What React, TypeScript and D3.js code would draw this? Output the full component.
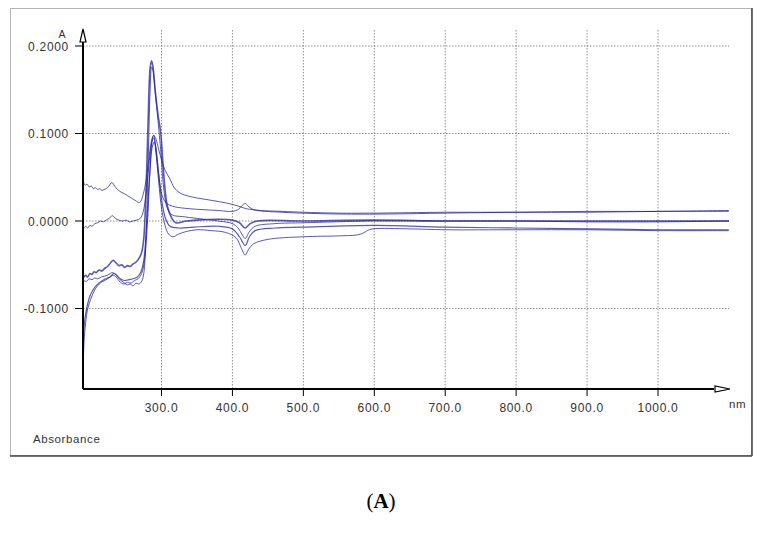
import React from "react";
import * as d3 from "d3";

const xTicks = [300, 400, 500, 600, 700, 800, 900, 1000];
const yTicks = [0.2, 0.1, 0.0, -0.1];
const yTickLabels = ["0.2000", "0.1000", "0.0000", "-0.1000"];

// spectra: [nm, absorbance]
const curve1: [number, number][] = [
  [190, 0.045], [192, 0.041], [195, 0.042], [198, 0.039], [201, 0.040], [204, 0.037], [207, 0.038], [210, 0.036],
  [213, 0.037], [216, 0.035], [219, 0.036], [222, 0.037], [226, 0.040], [230, 0.044], [234, 0.040], [238, 0.036],
  [243, 0.033], [248, 0.031], [252, 0.029], [256, 0.027], [260, 0.025], [264, 0.023], [268, 0.021], [271, 0.023],
  [274, 0.030], [278, 0.045], [282, 0.070], [286, 0.092], [289, 0.098], [292, 0.094], [296, 0.082], [300, 0.070],
  [305, 0.058], [312, 0.048], [318, 0.038], [326, 0.032], [340, 0.028], [360, 0.025], [382, 0.022], [400, 0.019],
  [412, 0.016], [420, 0.014], [440, 0.012], [470, 0.011], [500, 0.010], [550, 0.009], [600, 0.009], [700, 0.010],
  [800, 0.010], [900, 0.011], [1000, 0.011], [1100, 0.012]
];

const curve2: [number, number][] = [
  [190, -0.009], [193, -0.006], [196, -0.008], [199, -0.005], [202, -0.006], [206, -0.003], [210, -0.002], [214, 0.000],
  [218, -0.001], [222, 0.001], [226, 0.003], [231, 0.006], [235, 0.003], [240, 0.001], [245, 0.000], [250, 0.001],
  [255, -0.001], [260, 0.000], [265, 0.001], [270, 0.003], [274, 0.010], [278, 0.030], [282, 0.062], [286, 0.088],
  [289, 0.095], [292, 0.085], [296, 0.055], [300, 0.032], [305, 0.022], [312, 0.018], [320, 0.016], [340, 0.014],
  [380, 0.012], [400, 0.011], [408, 0.013], [414, 0.018], [418, 0.020], [422, 0.017], [430, 0.013], [470, 0.010],
  [550, 0.008], [620, 0.008], [700, 0.009], [800, 0.010], [900, 0.010], [1000, 0.011], [1100, 0.011]
];

const curve3: [number, number][] = [
  [190, -0.065], [193, -0.062], [196, -0.064], [199, -0.060], [202, -0.061], [205, -0.058], [208, -0.059], [212, -0.056],
  [216, -0.057], [220, -0.054], [224, -0.052], [228, -0.048], [232, -0.045], [236, -0.048], [240, -0.051], [244, -0.050],
  [248, -0.053], [252, -0.051], [256, -0.052], [260, -0.049], [264, -0.047], [268, -0.043], [272, -0.036], [275, -0.020],
  [278, 0.030], [281, 0.110], [284, 0.175], [286, 0.183], [288, 0.176], [291, 0.150], [295, 0.122], [299, 0.100],
  [303, 0.055], [308, 0.018], [314, 0.004], [320, -0.002], [335, 0.000], [350, 0.001], [380, 0.002], [400, 0.001],
  [410, -0.002], [418, -0.008], [425, -0.003], [435, 0.000], [500, 0.000], [600, 0.001], [700, 0.000], [800, 0.000],
  [900, 0.000], [1000, 0.000], [1100, 0.000]
];

const curve4: [number, number][] = [
  [190, -0.068], [194, -0.069], [198, -0.066], [202, -0.067], [206, -0.065], [210, -0.066], [215, -0.064], [220, -0.063],
  [226, -0.061], [230, -0.059], [234, -0.060], [238, -0.064], [243, -0.068], [248, -0.071], [252, -0.073], [256, -0.072],
  [260, -0.074], [264, -0.071], [268, -0.072], [272, -0.069], [275, -0.060], [278, -0.020], [281, 0.060], [284, 0.150],
  [286, 0.176], [288, 0.172], [291, 0.148], [295, 0.115], [299, 0.080], [303, 0.038], [308, 0.015], [315, 0.007],
  [330, 0.005], [350, 0.003], [380, 0.000], [400, -0.003], [408, -0.008], [414, -0.016], [418, -0.020], [424, -0.012],
  [432, -0.006], [460, -0.003], [500, -0.002], [600, 0.000], [700, 0.000], [800, 0.000], [900, -0.001], [1000, -0.001],
  [1100, 0.000]
];

const curve5: [number, number][] = [
  [190, -0.155], [191, -0.135], [193, -0.117], [196, -0.100], [200, -0.090], [205, -0.080], [210, -0.074], [215, -0.070],
  [220, -0.068], [226, -0.065], [232, -0.062], [237, -0.065], [242, -0.070], [247, -0.072], [252, -0.070], [257, -0.071],
  [262, -0.068], [267, -0.066], [272, -0.060], [276, -0.045], [280, -0.005], [284, 0.060], [287, 0.094], [289, 0.098],
  [292, 0.080], [296, 0.045], [300, 0.015], [305, -0.005], [310, -0.015], [316, -0.018], [324, -0.015], [335, -0.012],
  [350, -0.010], [370, -0.011], [390, -0.013], [405, -0.019], [412, -0.030], [418, -0.039], [423, -0.032], [430, -0.026],
  [450, -0.021], [500, -0.018], [550, -0.017], [575, -0.016], [584, -0.014], [590, -0.011], [598, -0.009], [650, -0.009],
  [700, -0.010], [800, -0.010], [900, -0.010], [1000, -0.011], [1100, -0.011]
];

const curve6: [number, number][] = [
  [190, -0.130], [192, -0.112], [195, -0.098], [199, -0.086], [204, -0.078], [209, -0.073], [215, -0.069], [221, -0.066],
  [227, -0.064], [233, -0.060], [237, -0.062], [242, -0.066], [248, -0.068], [254, -0.067], [260, -0.066], [266, -0.064],
  [271, -0.058], [275, -0.045], [279, -0.005], [283, 0.050], [287, 0.085], [290, 0.090], [293, 0.075], [297, 0.045],
  [301, 0.020], [306, 0.002], [312, -0.006], [325, -0.008], [345, -0.007], [380, -0.006], [400, -0.009], [410, -0.018],
  [418, -0.028], [424, -0.018], [432, -0.011], [460, -0.008], [500, -0.007], [600, -0.005], [700, -0.007], [800, -0.008],
  [900, -0.009], [1000, -0.010], [1100, -0.010]
];

const seriesList = [
  { data: curve1, w: 1 },
  { data: curve2, w: 1 },
  { data: curve3, w: 1.6 },
  { data: curve4, w: 1 },
  { data: curve5, w: 1 },
  { data: curve6, w: 1.2 },
];

export default function App() {
  const x = d3.scaleLinear().domain([300, 1000]).range([161.5, 658]);
  const y = d3.scaleLinear().domain([0.2, -0.1]).range([46, 308.5]);
  const axisX = 83;
  const axisY = 389;
  const plotTop = 30;
  const plotRight = 729;
  const line = d3
    .line<[number, number]>()
    .x((d) => x(d[0]))
    .y((d) => y(d[1]))
    .curve(d3.curveCatmullRom.alpha(0.5));
  const font = "'Liberation Sans', Arial, sans-serif";

  return (
    <svg
      width={763}
      height={533}
      style={{ position: "absolute", left: 0, top: 0, background: "#fff" }}
    >
      <rect x={0} y={0} width={763} height={533} fill="#fff" />
      {/* frame */}
      <rect x={10.5} y={8.5} width={741} height={447} fill="none" stroke="#b5b5b5" strokeWidth={1} />
      <line x1={752} y1={8} x2={752} y2={456} stroke="#444" strokeWidth={1.5} />
      <line x1={10} y1={456} x2={752} y2={456} stroke="#444" strokeWidth={1.5} />

      {/* grid */}
      {xTicks.map((t) => (
        <line key={"gx" + t} x1={x(t)} x2={x(t)} y1={plotTop} y2={axisY} stroke="#777" strokeWidth={0.8} strokeDasharray="1.5,1.5" />
      ))}
      {yTicks.map((t) => (
        <line key={"gy" + t} x1={axisX} x2={plotRight} y1={y(t)} y2={y(t)} stroke="#777" strokeWidth={0.8} strokeDasharray="1.5,1.5" />
      ))}

      {/* spectra */}
      <g fill="none" stroke="#22229a" strokeOpacity={0.75} strokeLinejoin="round">
        {seriesList.map((s, i) => (
          <path key={i} d={line(s.data) || ""} strokeWidth={s.w} />
        ))}
      </g>

      {/* axes */}
      <line x1={axisX} y1={axisY} x2={axisX} y2={plotTop + 12} stroke="#000" strokeWidth={2} />
      <line x1={axisX} y1={axisY} x2={plotRight - 15} y2={axisY} stroke="#000" strokeWidth={2} />
      <path d={`M${axisX},${plotTop - 1} L${axisX - 3},${plotTop + 12} L${axisX + 3},${plotTop + 12} Z`} fill="#fff" stroke="#000" strokeWidth={1.2} />
      <path d={`M${plotRight + 1},${axisY} L${plotRight - 14},${axisY - 3} L${plotRight - 14},${axisY + 3} Z`} fill="#fff" stroke="#000" strokeWidth={1.2} />

      {yTicks.map((t, i) => (
        <g key={"ty" + t}>
          <line x1={axisX - 8} x2={axisX} y1={y(t)} y2={y(t)} stroke="#000" strokeWidth={1} />
          <text x={69} y={y(t) + 4.5} textAnchor="end" fontFamily={font} fontSize={12} letterSpacing={0.7} fill="#333">
            {yTickLabels[i]}
          </text>
        </g>
      ))}
      {xTicks.map((t) => (
        <g key={"tx" + t}>
          <line x1={x(t)} x2={x(t)} y1={axisY} y2={axisY + 7} stroke="#000" strokeWidth={1} />
          <text x={x(t)} y={axisY + 23} textAnchor="middle" fontFamily={font} fontSize={12} letterSpacing={0.7} fill="#333">
            {t.toFixed(1)}
          </text>
        </g>
      ))}

      <text x={62} y={38} textAnchor="middle" fontFamily={font} fontSize={10.5} fill="#333">A</text>
      <text x={729} y={408} fontFamily={font} fontSize={11.5} letterSpacing={0.5} fill="#333">nm</text>
      <text x={33} y={443} fontFamily={font} fontSize={11.5} letterSpacing={0.6} fill="#333">Absorbance</text>

      <text x={381} y={508} textAnchor="middle" fontFamily="'Liberation Serif', 'Times New Roman', serif" fontSize={21} fill="#000">
        (<tspan fontWeight="bold">A</tspan>)
      </text>
    </svg>
  );
}
